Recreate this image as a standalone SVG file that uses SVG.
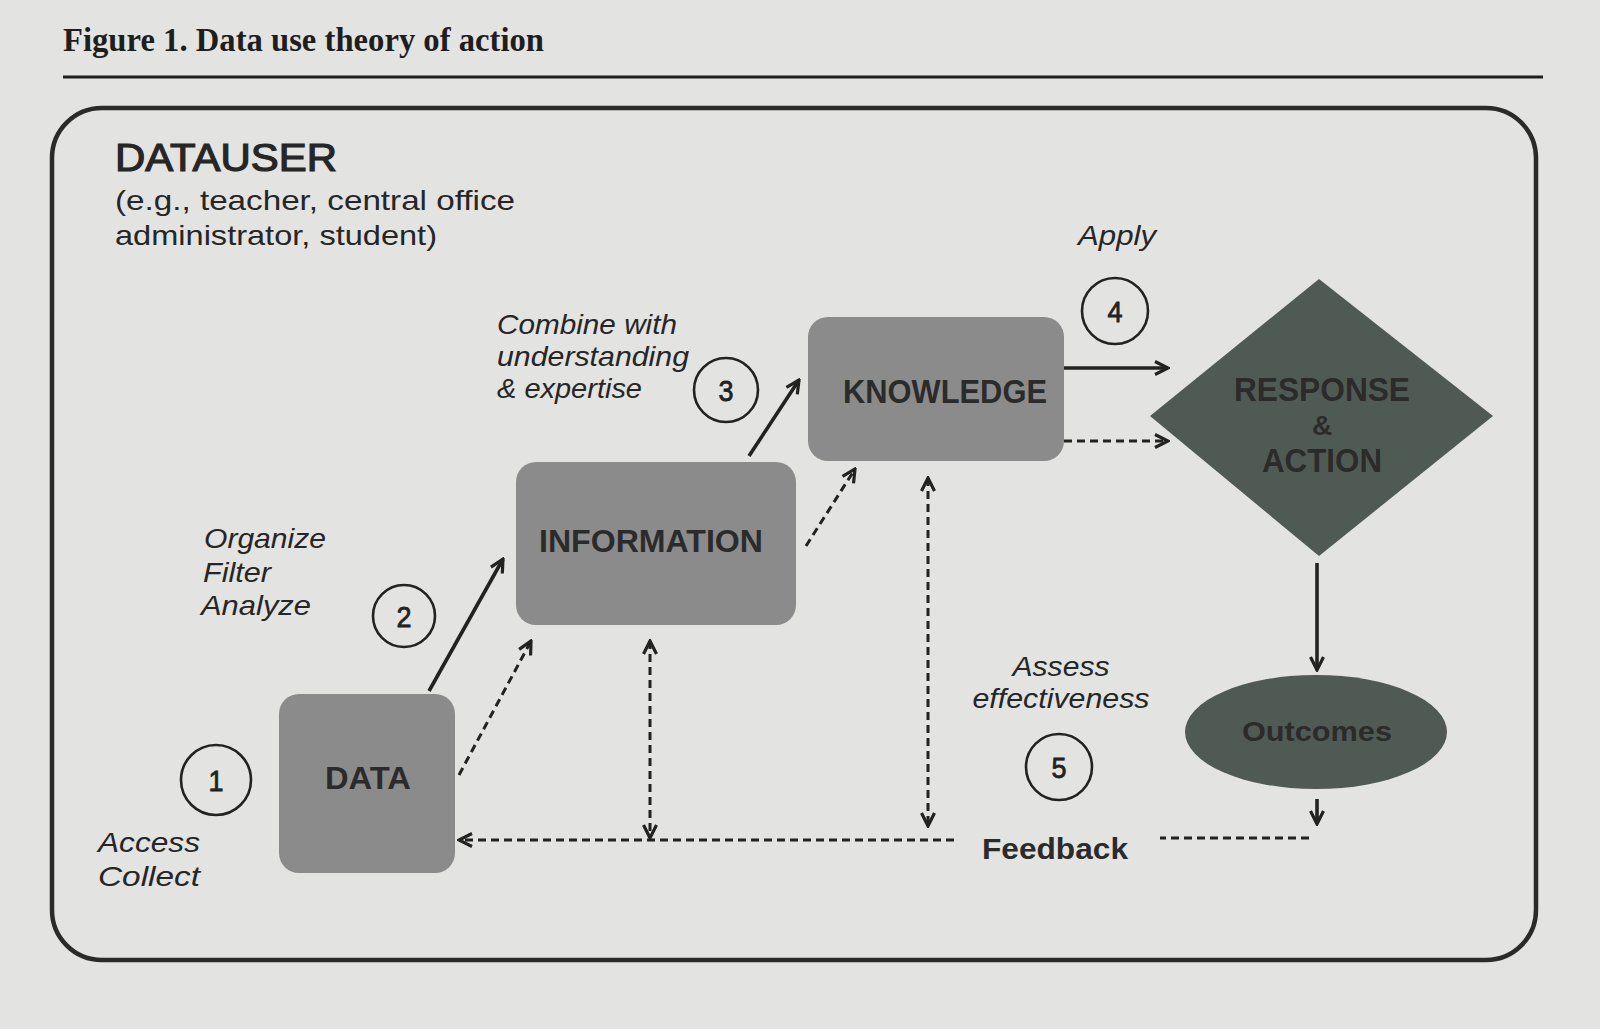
<svg xmlns="http://www.w3.org/2000/svg" width="1600" height="1029" viewBox="0 0 1600 1029">
<style>
.ttl{font-family:"Liberation Serif","Times New Roman",serif;font-weight:bold;font-size:33px;fill:#1e1e1e}
.hd{font-family:"Liberation Sans",Arial,sans-serif;fill:#262626}
.it{font-family:"Liberation Sans",Arial,sans-serif;font-style:italic;font-size:28px;fill:#262626}
.lbl{font-family:"Liberation Sans",Arial,sans-serif;font-weight:bold;fill:#2b2b2b;text-anchor:middle}
.num{font-family:"Liberation Sans",Arial,sans-serif;font-size:30px;fill:#222;text-anchor:middle;stroke:#222;stroke-width:0.8}
.box{fill:#8b8b8b}
.dark{fill:#505a55}
.circ{fill:none;stroke:#222;stroke-width:2.6}
.sl{fill:none;stroke:#222;stroke-width:3.6}
.dl{fill:none;stroke:#222;stroke-width:3;stroke-dasharray:8 5}
</style>
<defs>
<marker id="ah" viewBox="0 0 16 16" refX="14" refY="8" markerWidth="16" markerHeight="16" markerUnits="userSpaceOnUse" orient="auto-start-reverse">
<path d="M1,1.5 L14,8 L1,14.5" fill="none" stroke="#222" stroke-width="3.2"/>
</marker>
</defs>
<rect x="0" y="0" width="1600" height="1029" fill="#e3e3e1"/>
<text class="ttl" x="63" y="51" textLength="481" lengthAdjust="spacingAndGlyphs">Figure 1. Data use theory of action</text>
<line x1="63" y1="77" x2="1543" y2="77" stroke="#1e1e1e" stroke-width="3"/>
<rect x="52" y="108" width="1484" height="852" rx="50" fill="none" stroke="#2a2a2a" stroke-width="4.5"/>
<g id="datauser">
<text class="hd" x="115" y="171" font-size="38" stroke="#262626" stroke-width="1.2" textLength="222" lengthAdjust="spacingAndGlyphs">DATAUSER</text>
<text class="hd" x="115" y="210" font-size="28" textLength="400" lengthAdjust="spacingAndGlyphs">(e.g., teacher, central office</text>
<text class="hd" x="115" y="245" font-size="28" textLength="322" lengthAdjust="spacingAndGlyphs">administrator, student)</text>
</g>
<g id="connectors">
<line class="sl" x1="429" y1="691" x2="503" y2="559" marker-end="url(#ah)"/>
<line class="sl" x1="749" y1="456" x2="799" y2="380" marker-end="url(#ah)"/>
<line class="sl" x1="1064" y1="368" x2="1168" y2="368" marker-end="url(#ah)"/>
<line class="dl" x1="1064" y1="441" x2="1168" y2="441" marker-end="url(#ah)"/>
<line class="sl" x1="1317" y1="563" x2="1317" y2="670" stroke-width="3" marker-end="url(#ah)"/>
<line class="sl" x1="1317" y1="799" x2="1317" y2="824" stroke-width="3" marker-end="url(#ah)"/>
<line class="dl" x1="1309" y1="838" x2="1160" y2="838"/>
<line class="dl" x1="954" y1="840" x2="459" y2="840" marker-end="url(#ah)"/>
<line class="dl" x1="459" y1="775" x2="531" y2="641" marker-end="url(#ah)"/>
<line class="dl" x1="806" y1="546" x2="855" y2="469" marker-end="url(#ah)"/>
<line class="dl" x1="928" y1="478" x2="928" y2="826" stroke-dasharray="6 5" marker-start="url(#ah)" marker-end="url(#ah)"/>
<line class="dl" x1="650" y1="641" x2="650" y2="838" stroke-dasharray="6 5" marker-start="url(#ah)" marker-end="url(#ah)"/>
</g>
<g id="data">
<rect class="box" x="279" y="694" width="176" height="179" rx="20"/>
<text class="lbl" x="368" y="789" font-size="31" textLength="86" lengthAdjust="spacingAndGlyphs">DATA</text>
</g>
<g id="information">
<rect class="box" x="516" y="462" width="280" height="163" rx="20"/>
<text class="lbl" x="651" y="552" font-size="31" textLength="224" lengthAdjust="spacingAndGlyphs">INFORMATION</text>
</g>
<g id="knowledge">
<rect class="box" x="808" y="317" width="256" height="144" rx="20"/>
<text class="lbl" x="945" y="403" font-size="33" textLength="204" lengthAdjust="spacingAndGlyphs">KNOWLEDGE</text>
</g>
<g id="response">
<polygon class="dark" points="1319,279 1493,416 1319,556 1150,416"/>
<text class="lbl" x="1322" y="401" font-size="33" fill="#2c322f" textLength="176" lengthAdjust="spacingAndGlyphs">RESPONSE</text>
<text class="lbl" x="1322" y="435" font-size="28" fill="#2c322f">&amp;</text>
<text class="lbl" x="1322" y="472" font-size="33" fill="#2c322f" textLength="120" lengthAdjust="spacingAndGlyphs">ACTION</text>
</g>
<g id="outcomes">
<ellipse class="dark" cx="1316" cy="732" rx="131" ry="57"/>
<text class="lbl" x="1317" y="741" font-size="28" fill="#2c322f" textLength="150" lengthAdjust="spacingAndGlyphs">Outcomes</text>
</g>
<g id="step1">
<circle class="circ" cx="216" cy="780" r="35"/>
<text class="num" x="216" y="791" textLength="15" lengthAdjust="spacingAndGlyphs">1</text>
<text class="it" x="98" y="852" textLength="102" lengthAdjust="spacingAndGlyphs">Access</text>
<text class="it" x="98" y="886" textLength="102" lengthAdjust="spacingAndGlyphs">Collect</text>
</g>
<g id="step2">
<circle class="circ" cx="404" cy="616" r="31"/>
<text class="num" x="404" y="627" textLength="15" lengthAdjust="spacingAndGlyphs">2</text>
<text class="it" x="204" y="548" textLength="122" lengthAdjust="spacingAndGlyphs">Organize</text>
<text class="it" x="203" y="582" textLength="68" lengthAdjust="spacingAndGlyphs">Filter</text>
<text class="it" x="201" y="615" textLength="110" lengthAdjust="spacingAndGlyphs">Analyze</text>
</g>
<g id="step3">
<circle class="circ" cx="726" cy="390" r="32"/>
<text class="num" x="726" y="401" textLength="15" lengthAdjust="spacingAndGlyphs">3</text>
<text class="it" x="497" y="334" textLength="180" lengthAdjust="spacingAndGlyphs">Combine with</text>
<text class="it" x="497" y="366" textLength="192" lengthAdjust="spacingAndGlyphs">understanding</text>
<text class="it" x="497" y="398" textLength="145" lengthAdjust="spacingAndGlyphs">&amp; expertise</text>
</g>
<g id="step4">
<circle class="circ" cx="1115" cy="311" r="33"/>
<text class="num" x="1115" y="322" textLength="15" lengthAdjust="spacingAndGlyphs">4</text>
<text class="it" x="1078" y="245" textLength="78" lengthAdjust="spacingAndGlyphs">Apply</text>
</g>
<g id="step5">
<circle class="circ" cx="1059" cy="767" r="33"/>
<text class="num" x="1059" y="778" textLength="15" lengthAdjust="spacingAndGlyphs">5</text>
<text class="it" x="1061" y="676" text-anchor="middle" textLength="97" lengthAdjust="spacingAndGlyphs">Assess</text>
<text class="it" x="1061" y="708" text-anchor="middle" textLength="177" lengthAdjust="spacingAndGlyphs">effectiveness</text>
</g>
<g id="feedback">
<text class="lbl" x="1055" y="859" font-size="30" fill="#222" textLength="146" lengthAdjust="spacingAndGlyphs">Feedback</text>
</g>
</svg>
